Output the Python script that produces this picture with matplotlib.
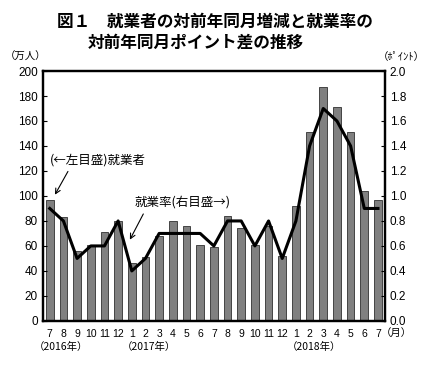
import numpy as np
import matplotlib.pyplot as plt

plt.rcParams['font.family'] = ['Noto Sans CJK JP', 'DejaVu Sans']

months = ['7', '8', '9', '10', '11', '12', '1', '2', '3', '4', '5', '6', '7',
          '8', '9', '10', '11', '12', '1', '2', '3', '4', '5', '6', '7']
employed = [97, 83, 56, 61, 71, 80, 46, 51, 68, 80, 76, 61, 59,
            84, 74, 61, 76, 52, 92, 151, 187, 171, 151, 104, 97]
rate = [0.9, 0.8, 0.5, 0.6, 0.6, 0.8, 0.4, 0.5, 0.7, 0.7, 0.7, 0.7, 0.6,
        0.8, 0.8, 0.6, 0.8, 0.5, 0.8, 1.4, 1.7, 1.6, 1.4, 0.9, 0.9]

x = np.arange(len(months))
num_font = ['Liberation Sans', 'DejaVu Sans']

fig = plt.figure(figsize=(4.29, 3.68), dpi=100)
ax = fig.add_axes([0.100, 0.128, 0.797, 0.679])
ax.bar(x, employed, width=0.56, color='#808080', edgecolor='#303030', linewidth=0.6)
ax.set_xlim(-0.5, len(months) - 0.5)
ax.set_ylim(0, 200)
ax.set_yticks(range(0, 201, 20))
ax.set_xticks(x)
ax.set_xticklabels(months, fontsize=7.5, family=num_font)
ax.tick_params(axis='x', length=0, pad=6)
ax.tick_params(axis='y', direction='in', length=3, labelsize=8.5)
for s in ax.spines.values():
    s.set_linewidth(1.6)

ax2 = ax.twinx()
ax2.plot(x, rate, color='black', linewidth=2.2)
ax2.set_ylim(0, 2.0)
ax2.set_yticks(np.arange(0, 2.01, 0.2))
ax2.set_yticklabels(['%.1f' % v for v in np.arange(0, 2.01, 0.2)])
ax2.tick_params(axis='y', direction='in', length=3, labelsize=8.5)
for s in ax2.spines.values():
    s.set_linewidth(1.6)

for lab in ax.get_yticklabels() + ax2.get_yticklabels():
    lab.set_family(num_font)

ax.annotate('(←左目盛)就業者', xy=(0.38, 101), xytext=(0.0, 129),
            fontsize=9, ha='left', va='center',
            arrowprops=dict(arrowstyle='->', color='black', lw=0.8,
                            shrinkA=2, shrinkB=0, relpos=(0.22, 0.0)))
ax.annotate('就業率(右目盛→)', xy=(5.86, 65), xytext=(6.2, 95),
            fontsize=9, ha='left', va='center',
            arrowprops=dict(arrowstyle='->', color='black', lw=0.8,
                            shrinkA=2, shrinkB=0, relpos=(0.12, 0.0)))

fig.text(0.5, 0.94, '図１　就業者の対前年同月増減と就業率の', ha='center', va='center',
         fontsize=12, fontweight='bold')
fig.text(0.205, 0.883, '対前年同月ポイント差の推移', ha='left', va='center',
         fontsize=12, fontweight='bold')
fig.text(0.06, 0.845, '（万人）', ha='center', va='center', fontsize=7.5)
fig.text(0.935, 0.845, '（ﾎﾟｲﾝﾄ）', ha='center', va='center', fontsize=7.5)
fig.text(0.925, 0.095, '（月）', ha='center', va='center', fontsize=7.5)
fig.text(0.142, 0.057, '（2016年）', ha='center', va='center', fontsize=7.5)
fig.text(0.347, 0.057, '（2017年）', ha='center', va='center', fontsize=7.5)
fig.text(0.732, 0.057, '（2018年）', ha='center', va='center', fontsize=7.5)

fig.savefig('out.png', dpi=100)
